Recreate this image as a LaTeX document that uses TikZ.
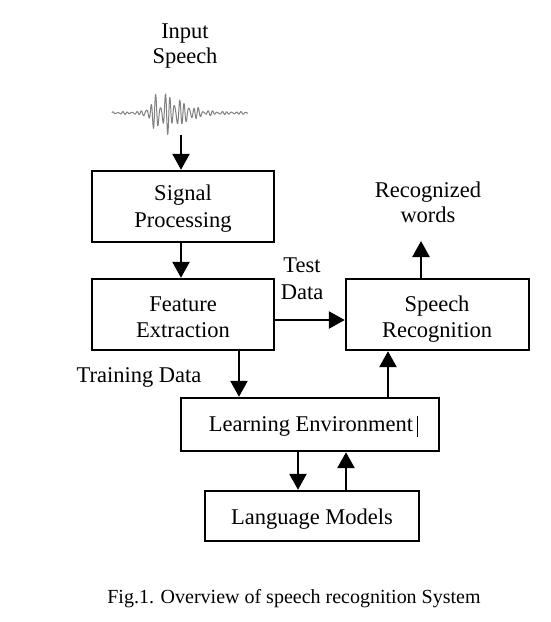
\documentclass[tikz,border=0pt]{standalone}
\usepackage{fontspec}
\setmainfont{Liberation Serif}
\usetikzlibrary{arrows.meta}
\begin{document}
\begin{tikzpicture}[x=1pt,y=-1pt,
  box/.style={draw,line width=2.4pt,inner sep=0pt},
  lbl/.style={font=\fontsize{22.5}{26}\selectfont,inner sep=0pt,anchor=base},
  arr/.style={line width=2.6pt,-{Triangle[length=16pt,width=17pt]}},
  every node/.style={inner sep=0pt}]
\useasboundingbox (0,0) rectangle (551,622);
% boxes
\node[box,minimum width=182pt,minimum height=71pt] (sp) at (183,206.5) {};
\node[box,minimum width=182pt,minimum height=71pt] (fe) at (183,314.5) {};
\node[box,minimum width=183pt,minimum height=71pt] (sr) at (437.5,314.5) {};
\node[box,minimum width=258pt,minimum height=53pt] (le) at (310,424.5) {};
\node[box,minimum width=214pt,minimum height=50pt] (lm) at (312,516) {};
% texts
\node[lbl] (t1) at (185,38) {Input};
\node[lbl] (t2) at (185,63) {Speech};
\node[lbl] (t3) at (183,200) {Signal};
\node[lbl] (t4) at (183,227) {Processing};
\node[lbl] (t5) at (183,311) {Feature};
\node[lbl] (t6) at (183,337) {Extraction};
\node[lbl] (t7) at (302,272) {Test};
\node[lbl] (t8) at (302,299) {Data};
\node[lbl] (t9) at (428,197) {Recognized};
\node[lbl] (t10) at (428,222) {words};
\node[lbl] (t11) at (437,311) {Speech};
\node[lbl] (t12) at (437,337) {Recognition};
\node[lbl] (t13) at (139,382) {Training Data};
\node[lbl] (t14) at (311,431) {Learning Environment};
\node[lbl] (t15) at (312,524) {Language Models};
\node[font=\fontsize{20}{24}\selectfont,anchor=base] (cap) at (294,603) {Fig.1. Overview of speech recognition System};
% cursor bar
\draw[line width=0.8pt] (417,416) -- (417,437);
% waveform
\draw[gray,line width=1pt,line join=round] plot[domain=0:136,samples=450]
  ({\x+112},{113 - (1.3 + 19*exp(-((\x-48)/(\x<48 ? 11 : 30))^2))*(0.7*sin(\x*76)+0.3*sin(\x*101+40)+0.15*sin(\x*43))});
% arrows
\coordinate (w) at (181,135);
\coordinate (rw) at (421,241);
\draw[arr] (w) -- (w |- sp.north);
\draw[arr] (sp.south -| w) -- (fe.north -| w);
\draw[arr] (fe.east |- 0,320) -- (sr.west |- 0,320);
\draw[arr] (fe.south -| 239,0) -- (le.north -| 239,0);
\draw[arr] (le.north -| 388,0) -- (sr.south -| 388,0);
\draw[arr] (sr.north -| rw) -- (rw);
\draw[arr] (le.south -| 298,0) -- (lm.north -| 298,0);
\draw[arr] (lm.north -| 346,0) -- (le.south -| 346,0);
\end{tikzpicture}
\end{document}
